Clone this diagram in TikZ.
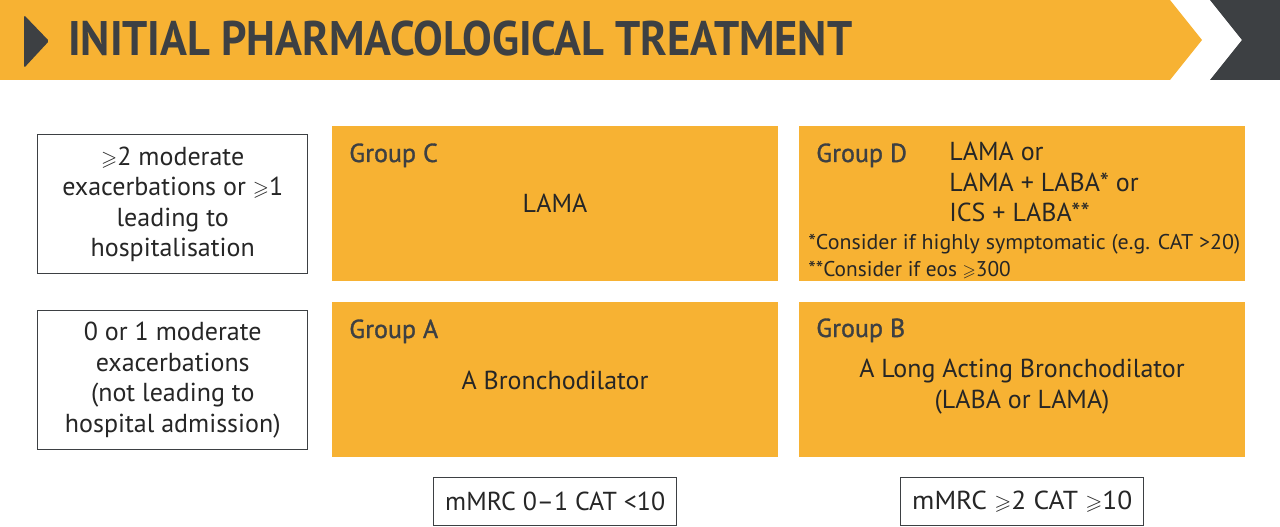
\documentclass[tikz,border=0pt]{standalone}
\usepackage{fontspec}
\usepackage{amssymb}
\setmainfont{PT Sans}
\newfontfamily\grpfont[FakeBold=1.2]{PT Sans}
\definecolor{ylw}{HTML}{F7B233}
\definecolor{dk}{HTML}{3D4043}
\definecolor{txt}{HTML}{262626}
\newcommand{\gsl}{\scalebox{0.8}{$\geqslant$}}
\tikzset{
  grpbox/.style={fill=ylw, minimum width=334.5pt, minimum height=116.25pt, anchor=north west, inner sep=0pt},
  critbox/.style={draw=dk, line width=1.1pt, fill=white, minimum width=202.5pt, minimum height=104.25pt, anchor=north west, inner sep=0pt, align=center, text=txt, font=\fontsize{19.5}{22.9}\selectfont},
  axisbox/.style={draw=dk, line width=1.1pt, fill=white, minimum width=182.25pt, minimum height=36pt, anchor=north west, inner sep=0pt, text=txt, font=\fontsize{19.5}{22.9}\selectfont},
  grptitle/.style={anchor=base west, inner sep=0pt, text=dk, font=\grpfont\fontsize{19.5}{22.9}\selectfont},
  body/.style={anchor=base, inner sep=0pt, text=txt, font=\fontsize{19.5}{22.9}\selectfont},
  bodyl/.style={anchor=base west, inner sep=0pt, text=txt, font=\fontsize{19.5}{22.9}\selectfont},
  note/.style={anchor=base west, inner sep=0pt, text=txt, font=\fontsize{16}{18}\selectfont}
}
\begin{document}
\begin{tikzpicture}[x=0.75pt,y=-0.75pt]
\useasboundingbox (0,0) rectangle (1280,527);
% header
\fill[ylw] (0,0) -- (1170,0) -- (1202,40) -- (1170,80) -- (0,80) -- cycle;
\fill[dk] (1210,0) -- (1280,0) -- (1280,80) -- (1210,80) -- (1242,40) -- cycle;
\fill[dk, rounded corners=1.2pt] (24,15) -- (49,41) -- (24,68) -- cycle;
\node[anchor=base west, inner sep=0pt, text=dk, font=\bfseries\fontsize{36.4}{40}\selectfont] (title) at (68,56)
  {\resizebox{588pt}{\height}{INITIAL PHARMACOLOGICAL TREATMENT}};
% criteria boxes
\node[critbox] (high) at (37,134) {\gsl2 moderate\\exacerbations or \gsl1\\leading to\\hospitalisation};
\node[critbox] (low) at (37,310) {0 or 1 moderate\\exacerbations\\(not leading to\\hospital admission)};
% group boxes
\node[grpbox] (C) at (332,126) {};
\node[grpbox] (D) at (799,126) {};
\node[grpbox] (A) at (332,302) {};
\node[grpbox] (B) at (799,302) {};
% group C
\node[grptitle] (Ct) at (349,162) {Group C};
\node[body] (Cx) at (555,213) {LAMA};
% group D
\node[grptitle] (Dt) at (816,162) {Group D};
\node[bodyl] (D1) at (949,161) {LAMA or};
\node[bodyl] (D2) at (949,192) {LAMA + LABA* or};
\node[bodyl] (D3) at (949,222) {ICS + LABA**};
\node[note] (Dn1) at (808,249) {\resizebox{324pt}{\height}{*Consider if highly symptomatic (e.g. CAT >20)}};
\node[note] (Dn2) at (808,276) {**Consider if eos \gsl300};
% group A
\node[grptitle] (At) at (349,338) {Group A};
\node[body] (Ax) at (555,389) {A Bronchodilator};
% group B
\node[grptitle] (Bt) at (816,337) {Group B};
\node[body] (Bx1) at (1022,377) {A Long Acting Bronchodilator};
\node[body] (Bx2) at (1022,408) {(LABA or LAMA)};
% axis boxes
\node[axisbox] (lowsym) at (433,477) {\resizebox{165pt}{\height}{mMRC 0--1 CAT <10}};
\node[axisbox] (highsym) at (900,477) {\resizebox{165pt}{\height}{mMRC \gsl2 CAT \gsl10}};
\end{tikzpicture}
\end{document}
